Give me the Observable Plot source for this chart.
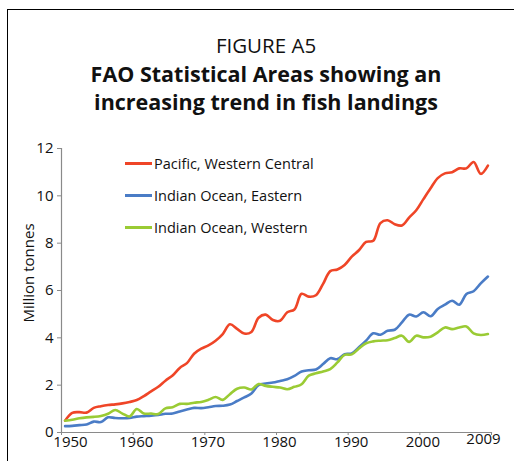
<!DOCTYPE html>
<html>
<head>
<meta charset="utf-8">
<script src="https://cdn.jsdelivr.net/npm/d3@7"></script>
<script src="https://cdn.jsdelivr.net/npm/@observablehq/plot@0.6"></script>
<style>
  html, body { margin: 0; padding: 0; background: #fff; }
  #wrap { position: relative; width: 514px; height: 461px; overflow: hidden; background: #fff; font-family: "Open Sans", "Noto Sans", sans-serif; color: #111; }
  #frame { position: absolute; left: 7px; top: 9px; width: 600px; height: 600px; border-left: 1.5px solid #000; border-top: 1.5px solid #000; }
  #fig { position: absolute; left: 0; width: 532px; top: 32px; text-align: center; font-size: 20.5px; line-height: 26px; }
  #title { position: absolute; left: 0; width: 532px; top: 60px; text-align: center; font-size: 21.5px; font-weight: 700; line-height: 28px; }
  #chart { position: absolute; left: 0; top: 128px; }
  #ylab { position: absolute; left: 28px; top: 273px; transform: translate(-50%, -50%) rotate(-90deg); font-size: 15px; white-space: nowrap; }
  #legend { position: absolute; left: 125px; top: 152px; font-size: 14.5px; }
  .row { position: absolute; left: 0; height: 22px; display: flex; align-items: center; white-space: nowrap; }
  .sw { width: 27px; height: 3px; margin-right: 2px; }
</style>
</head>
<body>
<div id="wrap">
  <div id="frame"></div>
  <div id="fig"></div>
  <div id="title"></div>
  <div id="chart"></div>
  <div id="ylab"></div>
  <div id="legend"></div>
</div>
<script>
const figureLabel = "FIGURE A5";
const titleLines = ["FAO Statistical Areas showing an", "increasing trend in fish landings"];
const yLabel = "Million tonnes";

const seriesNames = ["Pacific, Western Central", "Indian Ocean, Eastern", "Indian Ocean, Western"];
const seriesColors = ["#ef4527", "#4a7cc6", "#9acb34"];

const firstYear = 1950;
const lastYear = 2009;

const pacificWesternCentral = [
  0.50, 0.83, 0.86, 0.84, 1.04, 1.11, 1.16, 1.19, 1.23, 1.29,
  1.37, 1.54, 1.74, 1.93, 2.19, 2.41, 2.73, 2.93, 3.33, 3.54,
  3.68, 3.88, 4.16, 4.57, 4.38, 4.18, 4.25, 4.85, 4.98, 4.75,
  4.72, 5.08, 5.20, 5.86, 5.74, 5.80, 6.28, 6.82, 6.89, 7.08,
  7.43, 7.70, 8.05, 8.10, 8.85, 8.97, 8.80, 8.75, 9.08, 9.39,
  9.86, 10.32, 10.75, 10.95, 11.00, 11.16, 11.16, 11.43, 10.93, 11.28
];
const indianOceanEastern = [
  0.27, 0.28, 0.31, 0.34, 0.46, 0.44, 0.64, 0.61, 0.60, 0.61,
  0.67, 0.69, 0.71, 0.74, 0.79, 0.80, 0.89, 0.97, 1.04, 1.03,
  1.07, 1.12, 1.13, 1.18, 1.33, 1.48, 1.65, 2.00, 2.07, 2.11,
  2.18, 2.25, 2.39, 2.58, 2.63, 2.66, 2.89, 3.14, 3.10, 3.31,
  3.34, 3.60, 3.88, 4.19, 4.13, 4.30, 4.34, 4.65, 4.98, 4.90,
  5.08, 4.91, 5.22, 5.40, 5.57, 5.40, 5.85, 5.97, 6.30, 6.59
];
const indianOceanWestern = [
  0.50, 0.54, 0.60, 0.64, 0.66, 0.70, 0.79, 0.95, 0.80, 0.68,
  0.99, 0.80, 0.80, 0.78, 1.02, 1.07, 1.21, 1.21, 1.26, 1.29,
  1.38, 1.50, 1.38, 1.62, 1.85, 1.90, 1.82, 2.05, 1.97, 1.93,
  1.90, 1.83, 1.93, 2.04, 2.40, 2.50, 2.58, 2.68, 2.96, 3.28,
  3.30, 3.55, 3.77, 3.85, 3.88, 3.90, 3.99, 4.09, 3.83, 4.09,
  4.02, 4.05, 4.23, 4.44, 4.37, 4.44, 4.48, 4.19, 4.12, 4.16
];

const xTickValues = [1950, 1960, 1970, 1980, 1990, 2000, 2010];
const xTickLabels = ["1950", "1960", "1970", "1980", "1990", "2000", "2009"];
const yTickValues = [0, 2, 4, 6, 8, 10, 12];

// build table: each year is a category occupying [year, year+1); the point sits at its centre
const seriesValues = [pacificWesternCentral, indianOceanEastern, indianOceanWestern];
const rows = [];
seriesValues.forEach((vals, s) => {
  vals.forEach((v, i) => rows.push({series: seriesNames[s], year: firstYear + i, pos: firstYear + i + 0.5, value: v}));
});

document.getElementById("fig").textContent = figureLabel;
document.getElementById("title").innerHTML = titleLines.map(t => `<div>${t}</div>`).join("");
document.getElementById("ylab").textContent = yLabel;

const legend = document.getElementById("legend");
seriesNames.forEach((n, i) => {
  const r = document.createElement("div");
  r.className = "row";
  r.style.top = (i * 32) + "px";
  r.innerHTML = `<span class="sw" style="background:${seriesColors[i]}"></span><span>${n}</span>`;
  legend.appendChild(r);
});

const fmtX = (d) => xTickLabels[xTickValues.indexOf(d)];
const firstTick = xTickValues.slice(0, 1);
const midTicks = xTickValues.slice(1, -1);
const lastTick = xTickValues.slice(-1);
const labelStyle = {tickSize: 0, tickPadding: 4, label: null, fill: "#111", tickFormat: fmtX};

const plot = Plot.plot({
  width: 514,
  height: 333,
  marginLeft: 61,
  marginRight: 23,
  marginTop: 20,
  marginBottom: 29,
  style: {fontFamily: "'Open Sans', 'Noto Sans', sans-serif", fontSize: "15px", color: "#111", background: "transparent"},
  x: {domain: [firstYear, lastYear + 1]},
  y: {domain: [0, 12]},
  color: {domain: seriesNames, range: seriesColors},
  marks: [
    Plot.line(rows, {x: "pos", y: "value", z: "series", stroke: "series", strokeWidth: 2.6, curve: "catmull-rom"}),
    Plot.frame({anchor: "left", stroke: "#8a8a8a", strokeWidth: 1.2}),
    Plot.frame({anchor: "bottom", stroke: "#8a8a8a", strokeWidth: 1.2}),
    Plot.axisY({ticks: yTickValues, tickSize: 4, tickPadding: 4, label: null, stroke: "#8a8a8a", fill: "#111"}),
    Plot.axisX({ticks: xTickValues, tickSize: 3, tickFormat: () => "", label: null, stroke: "#8a8a8a"}),
    Plot.axisX({...labelStyle, ticks: firstTick, dx: 9}),
    Plot.axisX({...labelStyle, ticks: midTicks, dx: 3}),
    Plot.axisX({...labelStyle, ticks: lastTick, dx: -8, dy: -3})
  ]
});
document.getElementById("chart").appendChild(plot);
</script>
</body>
</html>
